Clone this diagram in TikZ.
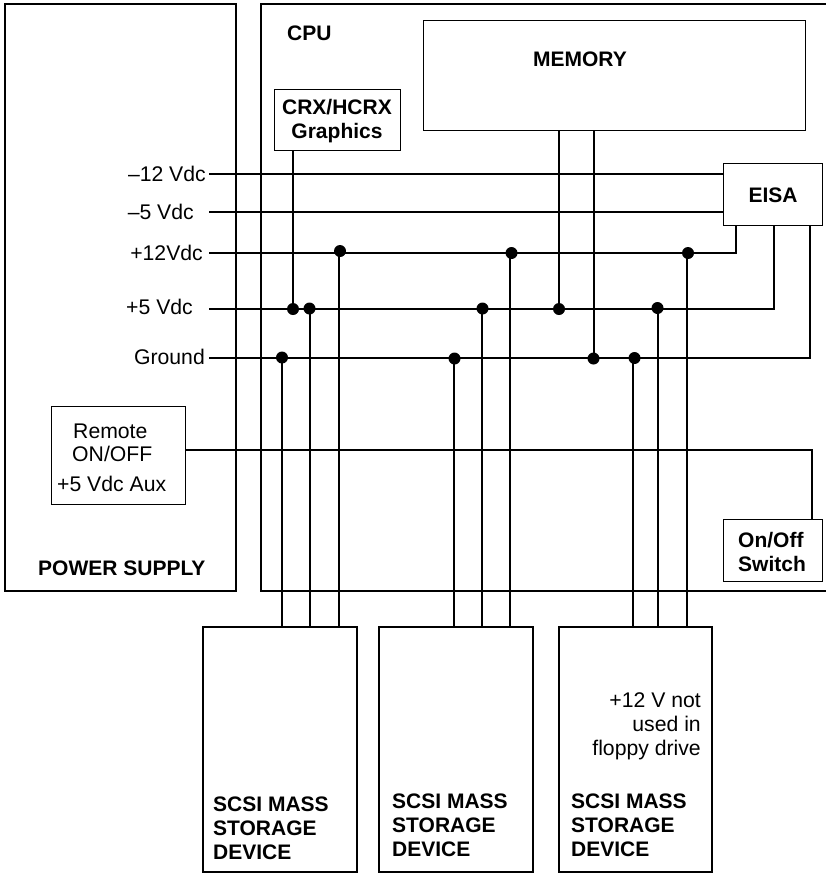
\documentclass[tikz,border=0pt]{standalone}
\usepackage{fontspec}
\setmainfont{Liberation Sans}
\usepackage{tikz}
\usetikzlibrary{positioning}
\tikzset{
  unitbox/.style={draw, line width=2pt, outer sep=0pt, inner sep=0pt, anchor=north west},
  thinbox/.style={draw, line width=1pt, outer sep=0pt, inner sep=0pt, anchor=north west},
  wire/.style={line width=2pt},
  junction/.style={circle, fill=black, minimum size=12pt, inner sep=0pt},
  plainlabel/.style={inner sep=0pt, font=\fontsize{21.2}{23.6}\selectfont},
  boldlabel/.style={inner sep=0pt, align=left, font=\fontsize{21}{23.6}\selectfont\bfseries}
}

\begin{document}
\begin{tikzpicture}[x=1pt, y=-1pt]
    \useasboundingbox (0,0) rectangle (826,873);

    % enclosures
    \node[unitbox, minimum width=231pt, minimum height=587pt] (psu) at (5,4) {};
    \draw[wire] (826,4) -- (261,4) -- (261,591) -- (826,591);
    \node[boldlabel, anchor=base west] (cpulabel) at (287,40) {CPU};
    \node[boldlabel, anchor=base west] (psulabel) at (38,575.5) {POWER SUPPLY};

    % boards inside the cpu
    \node[thinbox, minimum width=382pt, minimum height=110pt] (memory) at (423,20) {};
    \node[boldlabel, anchor=base] (memlabel) at (580,66) {MEMORY};
    \node[thinbox, minimum width=126pt, minimum height=61pt] (graphics) at (274,89) {};
    \node[boldlabel, align=center, anchor=base] (gfxlabel) at (337,138) {CRX/HCRX\\Graphics};
    \node[thinbox, minimum width=99pt, minimum height=62pt] (eisa) at (723,163) {};
    \node[boldlabel, anchor=base] (eisalabel) at (773,202.5) {EISA};
    \node[thinbox, minimum width=99pt, minimum height=62pt] (switch) at (723,519) {};
    \node[boldlabel, anchor=base west] (switchlabel) at (738,571) {On/Off\\Switch};
    \node[thinbox, minimum width=134pt, minimum height=98pt] (remote) at (51,406) {};
    \node[plainlabel, anchor=base west] (remotea) at (73,438) {Remote};
    \node[plainlabel, anchor=base west] (remoteb) at (72,461) {ON/OFF};
    \node[plainlabel, anchor=base west] (remotec) at (57,491.5) {+5 Vdc Aux};

    % storage devices
    \node[unitbox, minimum width=154pt, minimum height=245pt] (dev1) at (203,627) {};
    \node[unitbox, minimum width=154pt, minimum height=245pt, right=22pt of dev1] (dev2) {};
    \node[unitbox, minimum width=153pt, minimum height=245pt, right=26pt of dev2] (dev3) {};
    \node[boldlabel, anchor=base west] (devlabela) at (213,859) {SCSI MASS\\STORAGE\\DEVICE};
    \node[boldlabel, anchor=base west] (devlabelb) at (392,856) {SCSI MASS\\STORAGE\\DEVICE};
    \node[boldlabel, anchor=base west] (devlabelc) at (571,856) {SCSI MASS\\STORAGE\\DEVICE};
    \node[plainlabel, align=right, anchor=base east] (floppy) at (701,755) {+12 V not\\used in\\floppy drive};

    % supply rails
    \coordinate (railma) at (209,174);
    \coordinate (railmb) at (209,212);
    \coordinate (railpa) at (209,253);
    \coordinate (railpb) at (209,309);
    \coordinate (railgnd) at (209,358);
    \node[plainlabel, left=3pt of railma] (lblma) {–12 Vdc};
    \node[plainlabel, left=15pt of railmb] (lblmb) {–5 Vdc};
    \node[plainlabel, left=6pt of railpa] (lblpa) {+12Vdc};
    \node[plainlabel, left=16pt of railpb, yshift=2pt] (lblpb) {+5 Vdc};
    \node[plainlabel, left=4pt of railgnd, yshift=1pt] (lblgnd) {Ground};

    \draw[wire] (railma) -- (railma -| eisa.west);
    \draw[wire] (railmb) -- (railmb -| eisa.west);
    \coordinate (eisaa) at (736,225);
    \coordinate (eisab) at (774,225);
    \coordinate (eisac) at (810,225);
    \draw[wire] (railpa) -| (eisaa);
    \draw[wire] (railpb) -| (eisab);
    \draw[wire] (railgnd) -| (eisac);
    \coordinate (switchin) at (812,519);
    \draw[wire] (remote.east |- 0,450) -| (switchin);

    % taps on the rails
    \node[junction] (tapgfx) at (293,309) {};
    \node[junction] (tapmema) at (559,309) {};
    \node[junction] (tapmemb) at (593.5,358.5) {};
    \node[junction] (gnda) at (282,357.5) {};
    \node[junction] (gndb) at (454.5,358.5) {};
    \node[junction] (gndc) at (634.5,358) {};
    \node[junction] (pluga) at (309.5,308.5) {};
    \node[junction] (plugb) at (482.5,308.5) {};
    \node[junction] (plugc) at (657.5,308) {};
    \node[junction] (posa) at (340,251) {};
    \node[junction] (posb) at (511.5,253) {};
    \node[junction] (posc) at (688,253) {};

    \draw[wire] (graphics.south -| tapgfx) -- (tapgfx);
    \draw[wire] (memory.south -| tapmema) -- (tapmema);
    \draw[wire] (memory.south -| 594,0) -- (tapmemb.center -| 594,0);

    % drops down to the devices
    \coordinate (dropaa) at (282,627);
    \coordinate (dropab) at (310,627);
    \coordinate (dropac) at (339,627);
    \coordinate (dropba) at (454,627);
    \coordinate (dropbb) at (482,627);
    \coordinate (dropbc) at (510,627);
    \coordinate (dropca) at (633,627);
    \coordinate (dropcb) at (658,627);
    \coordinate (dropcc) at (687,627);
    \draw[wire] (gnda.center -| dropaa) -- (dropaa);
    \draw[wire] (pluga.center -| dropab) -- (dropab);
    \draw[wire] (posa.center -| dropac) -- (dropac);
    \draw[wire] (gndb.center -| dropba) -- (dropba);
    \draw[wire] (plugb.center -| dropbb) -- (dropbb);
    \draw[wire] (posb.center -| dropbc) -- (dropbc);
    \draw[wire] (gndc.center -| dropca) -- (dropca);
    \draw[wire] (plugc.center -| dropcb) -- (dropcb);
    \draw[wire] (posc.center -| dropcc) -- (dropcc);
  \end{tikzpicture}
\end{document}
